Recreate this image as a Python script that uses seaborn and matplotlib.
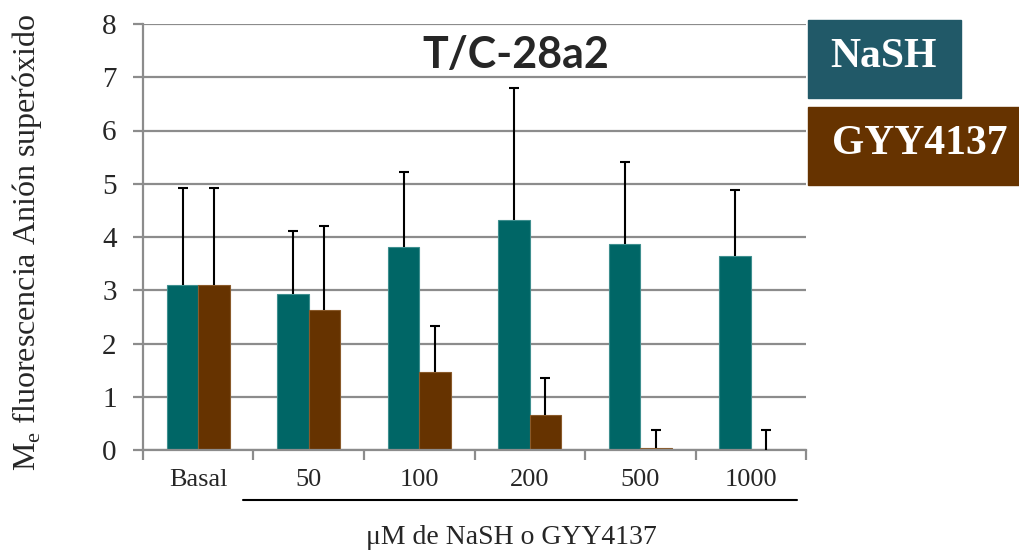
import matplotlib
matplotlib.use("Agg")
import matplotlib.pyplot as plt
from matplotlib.patches import Rectangle
import seaborn as sns
import numpy as np
import pandas as pd

# data
doses = ["Basal", "50", "100", "200", "500", "1000"]
nash = [3.10, 2.93, 3.82, 4.31, 3.87, 3.65]
nash_err = [1.82, 1.19, 1.40, 2.49, 1.53, 1.23]
gyy = [3.10, 2.63, 1.46, 0.65, 0.03, 0.0]
gyy_err = [1.82, 1.57, 0.87, 0.70, 0.35, 0.38]

teal = "#006666"
brown = "#663300"

sns.set_theme(style="white")
plt.rcParams["font.family"] = ["Liberation Serif", "DejaVu Serif"]
plt.rcParams["mathtext.fontset"] = "custom"
plt.rcParams["mathtext.rm"] = "Liberation Serif"

df = pd.DataFrame({
    "dose": doses * 2,
    "value": nash + gyy,
    "compound": ["NaSH"] * len(doses) + ["GYY4137"] * len(doses),
})

fig = plt.figure(figsize=(10.2, 5.51), dpi=100)
ax = fig.add_axes([143 / 1020, 1 - 450 / 551, (806 - 143) / 1020, (450 - 24) / 551])

sns.barplot(data=df, x="dose", y="value", hue="compound", order=doses,
            hue_order=["NaSH", "GYY4137"], palette=[teal, brown],
            saturation=1, width=0.57, gap=0, errorbar=None, legend=False,
            ax=ax, linewidth=0.8, zorder=2)

edge_cols = ["#3f8f8f", "#8a5a2a"]
for cont, errs, ec in zip(ax.containers, [nash_err, gyy_err], edge_cols):
    xs = [p.get_x() + p.get_width() / 2 for p in cont]
    ys = [p.get_height() for p in cont]
    for p in cont:
        p.set_edgecolor(ec)
    eb = ax.errorbar(xs, ys, yerr=[np.zeros(len(errs)), errs], fmt="none",
                     ecolor="black", elinewidth=1.5, capsize=3.6, capthick=1.5,
                     zorder=3)
    # only the upper cap is drawn in the reference
    eb[1][0].set_visible(False)

ax.set_ylim(0, 8)
ax.set_xlim(-0.5, 5.5)
ax.set_yticks(range(0, 9))
ax.yaxis.grid(True, color="#8c8c8c", linewidth=1.6, zorder=0)
ax.set_axisbelow(True)

for s in ["top", "right"]:
    ax.spines[s].set_visible(False)
for s in ["left", "bottom"]:
    ax.spines[s].set_color("#8c8c8c")
    ax.spines[s].set_linewidth(1.6)

ax.tick_params(axis="y", which="major", length=7, width=1.6, color="#8c8c8c",
               pad=12, labelsize=21, left=True)
ax.set_xticks(range(len(doses)))
ax.set_xticklabels(doses)
ax.set_xticks(np.arange(-0.5, len(doses), 1), minor=True)
ax.tick_params(axis="x", which="major", length=0, pad=14, labelsize=19)
ax.tick_params(axis="x", which="minor", length=7, width=1.6, color="#8c8c8c",
               bottom=True)

ax.set_xlabel("")
ax.set_ylabel("")
fig.text(27 / 1020, 1 - 242 / 551,
         "M$_{\\mathregular{e}}$ fluorescencia Anión superóxido",
         rotation=90, ha="center", va="center", fontsize=23)
fig.text(511 / 1020, 1 - 537 / 551, "μM de NaSH o GYY4137",
         ha="center", va="center", fontsize=20)

# line under the dose labels
fig.add_artist(plt.Line2D([243 / 1020, 797 / 1020], [1 - 500 / 551, 1 - 500 / 551],
                          color="black", linewidth=1.5))

fig.text(516 / 1020, 1 - 55 / 551, "T/C-28a2", ha="center", va="center",
         fontsize=31, fontweight="bold", family=["Lato", "DejaVu Sans"])

# legend boxes
fig.add_artist(Rectangle((808 / 1020, 1 - 98 / 551), 153 / 1020, 78 / 551,
                         transform=fig.transFigure, color="#215968"))
fig.add_artist(Rectangle((808 / 1020, 1 - 185 / 551), 212 / 1020, 78 / 551,
                         transform=fig.transFigure, color=brown))
fig.text(884 / 1020, 1 - 57 / 551, "NaSH", ha="center", va="center",
         fontsize=30, fontweight="bold", color="white")
fig.text(920 / 1020, 1 - 144 / 551, "GYY4137", ha="center", va="center",
         fontsize=30, fontweight="bold", color="white")

fig.savefig("out.png", dpi=100)
